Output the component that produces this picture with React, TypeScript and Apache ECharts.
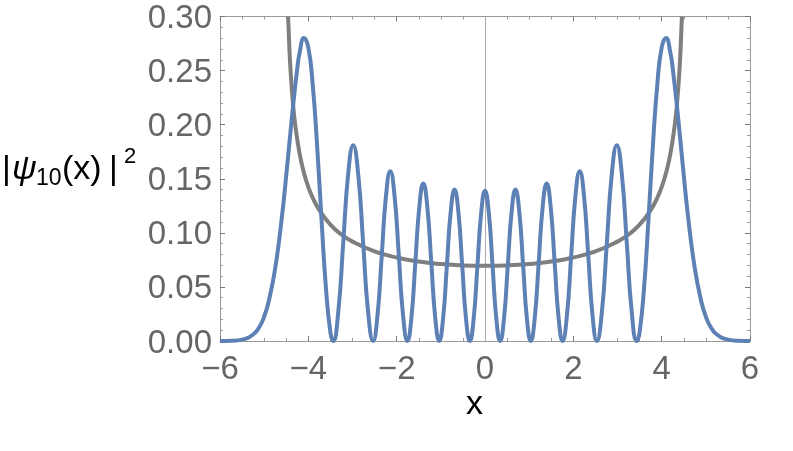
import React, { useEffect, useRef } from "react";
import * as echarts from "echarts";

// |psi_10(x)|^2 (lobes between nodes, outer peaks, tails)
const psiX = [
  -6.0, -5.75, -5.5, -5.25, -5.1, -5.0, -4.9, -4.75, -4.6, -4.5, -4.35, -4.25, -4.2, -4.1, -4.0, -3.9, -3.8, -3.7, -3.6, -3.5,
  -3.4362, -3.3233, -3.2103, -3.0974, -2.9845, -2.8715, -2.7586, -2.6456,
  -2.5327, -2.4357, -2.3387, -2.2417, -2.1447, -2.0477, -1.9507, -1.8537,
  -1.7567, -1.6666, -1.5766, -1.4865, -1.3965, -1.3064, -1.2163, -1.1263,
  -1.0362, -0.9495, -0.8629, -0.7762, -0.6896, -0.6029, -0.5162, -0.4296,
  -0.3429, -0.2572, -0.1715, -0.0857, 0,
  0.0857, 0.1715, 0.2572, 0.3429,
  0.4296, 0.5162, 0.6029, 0.6896, 0.7762, 0.8629, 0.9495, 1.0362,
  1.1263, 1.2163, 1.3064, 1.3965, 1.4865, 1.5766, 1.6666, 1.7567,
  1.8537, 1.9507, 2.0477, 2.1447, 2.2417, 2.3387, 2.4357, 2.5327,
  2.6456, 2.7586, 2.8715, 2.9845, 3.0974, 3.2103, 3.3233, 3.4362,
  3.5, 3.6, 3.7, 3.8, 3.9, 4.0, 4.1, 4.2, 4.25, 4.35, 4.5, 4.6, 4.75, 4.9, 5.0, 5.1, 5.25, 5.5, 5.75, 6.0,
];
const psiY = [
  0.0, 0.0002, 0.0013, 0.006, 0.0137, 0.0226, 0.0361, 0.0673, 0.1142, 0.1531, 0.2157, 0.2521, 0.2659, 0.2801, 0.2712, 0.2366, 0.1798, 0.1116, 0.0484, 0.0079,
  0, 0.0265, 0.0905, 0.1545, 0.181, 0.1545, 0.0905, 0.0265,
  0, 0.023, 0.0785, 0.134, 0.157, 0.134, 0.0785, 0.023,
  0, 0.0213, 0.0728, 0.1242, 0.1455, 0.1242, 0.0728, 0.0213,
  0, 0.0205, 0.07, 0.1195, 0.14, 0.1195, 0.07, 0.0205,
  0, 0.0203, 0.0694, 0.1185, 0.1388,
  0.1185, 0.0694, 0.0203, 0,
  0.0205, 0.07, 0.1195, 0.14, 0.1195, 0.07, 0.0205, 0,
  0.0213, 0.0728, 0.1242, 0.1455, 0.1242, 0.0728, 0.0213, 0,
  0.023, 0.0785, 0.134, 0.157, 0.134, 0.0785, 0.023, 0,
  0.0265, 0.0905, 0.1545, 0.181, 0.1545, 0.0905, 0.0265, 0,
  0.0079, 0.0484, 0.1116, 0.1798, 0.2366, 0.2712, 0.2801, 0.2659, 0.2521, 0.2157, 0.1531, 0.1142, 0.0673, 0.0361, 0.0226, 0.0137, 0.006, 0.0013, 0.0002, 0.0,
];

// classical probability density (gray curve)
const classicalX = [
  -4.458, -4.43, -4.4, -4.35, -4.3, -4.2, -4.1, -4.0, -3.9, -3.75, -3.5, -3.25, -3.0, -2.5, -2.0, -1.5, -1.0, -0.5,
  0, 0.5, 1.0, 1.5, 2.0, 2.5, 3.0, 3.25, 3.5, 3.75, 3.9, 4.0, 4.1, 4.2, 4.3, 4.35, 4.4, 4.43, 4.458,
];
const classicalY = [
  0.3, 0.2714, 0.2486, 0.2208, 0.2009, 0.1737, 0.1555, 0.1424, 0.1323, 0.1209, 0.1076, 0.0985, 0.0919, 0.0829, 0.0772, 0.0735, 0.0712, 0.0699,
  0.0695, 0.0699, 0.0712, 0.0735, 0.0772, 0.0829, 0.0919, 0.0985, 0.1076, 0.1209, 0.1323, 0.1424, 0.1555, 0.1737, 0.2009, 0.2208, 0.2486, 0.2714, 0.3,
];

const xMin = -6;
const xMax = 6;
const xStep = 2;
const yMin = 0;
const yMax = 0.3;
const yStep = 0.05;

const FONT = "'Liberation Sans', Arial, sans-serif";
const frameColor = "#999999";
const labelColor = "#666666";

export default function App() {
  const ref = useRef<HTMLDivElement>(null);
  useEffect(() => {
    if (!ref.current) return;
    const chart = echarts.init(ref.current, undefined, { renderer: "svg" });
    const minus = (v: number) => (v < 0 ? "\u2212" + Math.abs(v) : String(v));
    const tickCommon = {
      axisLine: { show: true, onZero: false, lineStyle: { color: frameColor, width: 1 } },
      axisTick: { show: true, inside: true, length: 5, lineStyle: { color: "#777", width: 1 } },
      minorTick: { show: true, length: 3, lineStyle: { color: "#999", width: 1 } },
      splitLine: { show: false },
      minorSplitLine: { show: false },
    };
    chart.setOption({
      animation: false,
      grid: { left: 220, right: 43, top: 14, bottom: 110, containLabel: false },
      xAxis: [
        {
          type: "value", min: xMin, max: xMax, interval: xStep, position: "bottom",
          ...tickCommon,
          minorTick: { ...tickCommon.minorTick, splitNumber: 4 },
          axisLabel: { fontSize: 33, lineHeight: 24, color: labelColor, fontFamily: FONT, margin: 14, formatter: minus },
        },
        {
          type: "value", min: xMin, max: xMax, interval: xStep, position: "top",
          ...tickCommon,
          minorTick: { ...tickCommon.minorTick, splitNumber: 4 },
          axisLabel: { show: false },
        },
      ],
      yAxis: [
        {
          type: "value", min: yMin, max: yMax, interval: yStep, position: "left",
          ...tickCommon,
          minorTick: { ...tickCommon.minorTick, splitNumber: 5 },
          axisLabel: { fontSize: 33, lineHeight: 22, color: labelColor, fontFamily: FONT, margin: 8, formatter: (v: number) => v.toFixed(2) },
        },
        {
          type: "value", min: yMin, max: yMax, interval: yStep, position: "right",
          ...tickCommon,
          minorTick: { ...tickCommon.minorTick, splitNumber: 5 },
          axisLabel: { show: false },
        },
      ],
      series: [
        {
          type: "line",
          data: classicalX.map((x, i) => [x, classicalY[i]]),
          smooth: true,
          showSymbol: false,
          lineStyle: { color: "#7f7f7f", width: 4 },
          z: 2,
          markLine: {
            silent: true,
            symbol: "none",
            label: { show: false },
            lineStyle: { color: "#aaaaaa", width: 1, type: "solid" },
            data: [{ xAxis: 0 }],
            z: 1,
          },
        },
        {
          type: "line",
          data: psiX.map((x, i) => [x, psiY[i]]),
          smooth: true,
          showSymbol: false,
          lineStyle: { color: "#5e81b5", width: 4 },
          z: 3,
        },
      ],
      graphic: [
        { type: "text", left: 2, top: 150, style: { text: "|", fontSize: 34, fontFamily: FONT, fill: "#000" } },
        { type: "text", left: 12, top: 150, style: { text: "ψ", fontSize: 34, fontStyle: "italic", fontFamily: FONT, fill: "#000" } },
        { type: "text", left: 36, top: 165, style: { text: "10", fontSize: 23, fontFamily: FONT, fill: "#000" } },
        { type: "text", left: 62, top: 150, style: { text: "(x)", fontSize: 34, fontFamily: FONT, fill: "#000" } },
        { type: "text", left: 109, top: 150, style: { text: "|", fontSize: 34, fontFamily: FONT, fill: "#000" } },
        { type: "text", left: 124, top: 144, style: { text: "2", fontSize: 22, fontFamily: FONT, fill: "#000" } },
        { type: "text", left: 466, top: 385, style: { text: "x", fontSize: 34, fontFamily: FONT, fill: "#000" } },
      ],
    });
    return () => chart.dispose();
  }, []);
  return <div ref={ref} style={{ position: "fixed", left: 0, top: 0, width: 793, height: 451 }} />;
}
